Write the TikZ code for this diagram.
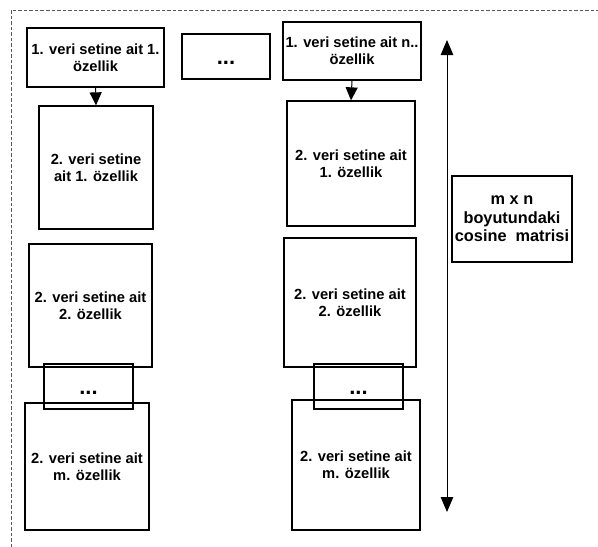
\documentclass[tikz,border=0pt]{standalone}
\usepackage{fontspec}
\setmainfont{Liberation Sans}
\usetikzlibrary{arrows.meta,calc}
\newcommand{\mydots}{\smash{\raisebox{-8pt}{\fontsize{22}{22}\selectfont\bfseries ...}}}
\begin{document}
\begin{tikzpicture}[x=1pt,y=-1pt,
  box/.style={draw, line width=1.3pt, align=center, inner sep=0pt,
    font=\fontsize{14.7}{17}\selectfont\bfseries},
  thickbox/.style={box, line width=1.9pt},
  arr/.style={-{Triangle[length=13pt,width=12pt]}, line width=1pt},
]
\useasboundingbox (0,0) rectangle (598,547);
\draw[black!65, line width=0.9pt, dash pattern=on 3.5pt off 2pt] (11,547) -- (11,10) -- (598,10);

\node[thickbox, minimum width=137, minimum height=59] (A) at (95.5,57.5) {1. veri setine ait 1.\\özellik};
\node[box, minimum width=88, minimum height=45] (dots1) at (226,56.5) {\mydots};
\node[thickbox, minimum width=138, minimum height=58] (B) at (352,51) {1. veri setine ait n..\\özellik};

\node[box, minimum width=114, minimum height=123] (C) at (96,167.5) {2. veri setine\\ait 1. özellik};
\node[box, minimum width=128, minimum height=125] (D) at (351,163.5) {2. veri setine ait\\1. özellik};

\node[box, minimum width=120, minimum height=86, font=\fontsize{16.3}{18.5}\selectfont\bfseries] (E) at (512,219) {m x n\\boyutundaki\\cosine\ \ matrisi};

\node[box, minimum width=123, minimum height=123] (F1) at (90.5,305.5) {2. veri setine ait\\2. özellik};
\node[box, minimum width=124, minimum height=127] (H1) at (87,466.5) {2. veri setine ait\\m. özellik};
\node[thickbox, minimum width=89, minimum height=45] (G1) at (88.5,386.5) {\mydots};

\node[box, minimum width=132, minimum height=129] (F2) at (350,302.5) {2. veri setine ait\\2. özellik};
\node[box, minimum width=128, minimum height=130] (H2) at (356,465) {2. veri setine ait\\m. özellik};
\node[thickbox, minimum width=89, minimum height=45] (G2) at (358.5,386.5) {\mydots};

\draw[arr] (A.south) -- (C.north);
\draw[arr] (B.south) -- (D.north);

\coordinate (top) at (447,40);
\coordinate (bot) at (447,512);
\draw[{Triangle[length=15pt,width=12.5pt]}-{Triangle[length=15pt,width=12.5pt]}, line width=1pt] (top) -- (bot);
\end{tikzpicture}
\end{document}
